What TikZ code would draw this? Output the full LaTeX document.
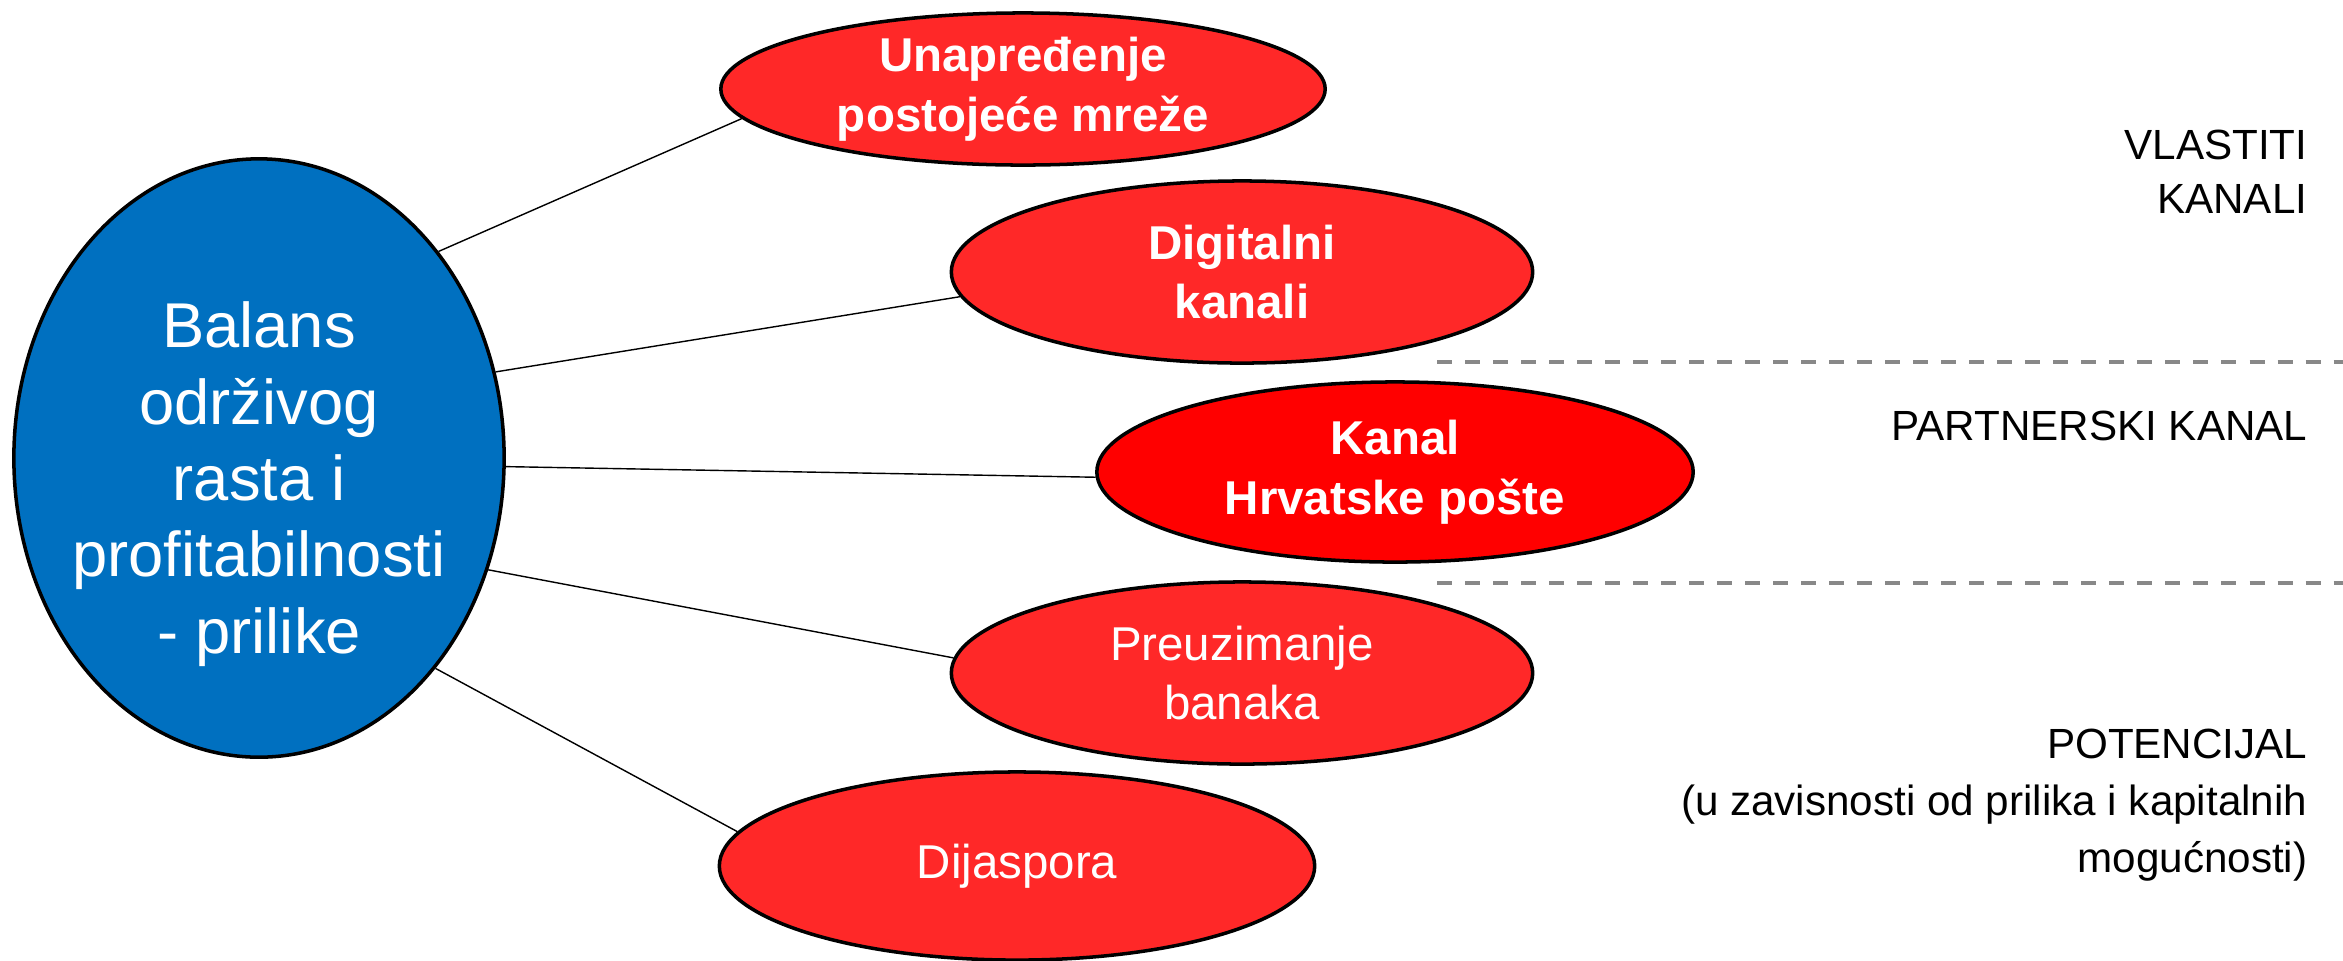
\documentclass[tikz,border=0pt]{standalone}
\usepackage{fontspec}
\setmainfont{Liberation Sans}
\usetikzlibrary{shapes.geometric}

\definecolor{hubblue}{HTML}{0070C0}
\definecolor{chanred}{HTML}{FF2828}
\definecolor{postred}{HTML}{FF0000}
\definecolor{sepgray}{HTML}{888888}

\tikzset{
	hub/.style={ellipse, draw=black, line width=1pt, fill=hubblue, inner sep=0pt},
	hubtext/.style={text=white, inner sep=0pt, align=center, font=\fontsize{18}{21.7}\selectfont},
	chan/.style={ellipse, draw=black, line width=1pt, fill=chanred, text=white, inner sep=0pt, align=center,
		font=\fontsize{13.5}{17}\selectfont},
	link/.style={draw=black, line width=0.4pt},
	sep/.style={draw=sepgray, line width=1.1pt, dash pattern=on 0.15cm off 0.13cm},
	side/.style={anchor=east, inner sep=0pt, align=right, font=\fontsize{12}{15.4}\selectfont}
}

\begin{document}
\begin{tikzpicture}[x=0.01cm, y=-0.01cm]
	\useasboundingbox (0, 0) rectangle (2343, 960);

	\node[hub, minimum width=4.9cm, minimum height=5.98cm] (hub) at (259, 458) {};
	\node[hubtext] (hubtxt) at (259, 484) {Balans\\održivog\\rasta i\\profitabilnosti\\- prilike};

	\node[chan, minimum width=6.04cm, minimum height=1.52cm] (unap) at (1023, 89) {\bfseries Unapređenje\\\bfseries postojeće mreže};
	\node[chan, minimum width=5.81cm, minimum height=1.82cm] (digi) at (1242, 272) {\bfseries Digitalni\\\bfseries kanali};
	\node[chan, fill=postred, minimum width=5.96cm, minimum height=1.80cm] (posta) at (1395, 472) {\bfseries Kanal\\\bfseries Hrvatske pošte};
	\node[chan, minimum width=5.81cm, minimum height=1.82cm] (preuz) at (1242, 673) {Preuzimanje\\banaka};
	\node[chan, minimum width=5.95cm, minimum height=1.88cm] (dijas) at (1017, 866) {Dijaspora};

	\draw[link] (hub.49) -- (unap.-174);
	\draw[link] (hub.20) -- (digi.185);
	\draw[link] (hub.-2) -- (posta.181);
	\draw[link] (hub.-26) -- (preuz.177);
	\draw[link] (hub.-50) -- (dijas.173);

	% separators between the channel groups
	\coordinate (s1a) at (1437, 362);
	\coordinate (s1b) at (2343, 362);
	\coordinate (s2a) at (1437, 583);
	\coordinate (s2b) at (2343, 583);
	\draw[sep] (s1a) -- (s1b);
	\draw[sep] (s2a) -- (s2b);

	\node[side] (own) at (2308, 172) {VLASTITI\\KANALI};
	\node[side] (partner) at (2308, 426) {PARTNERSKI KANAL};
	\node[side, font=\fontsize{12}{16.2}\selectfont] (potential) at (2308, 805) {POTENCIJAL\\(u zavisnosti od prilika i kapitalnih\\mogućnosti)};
\end{tikzpicture}
\end{document}
